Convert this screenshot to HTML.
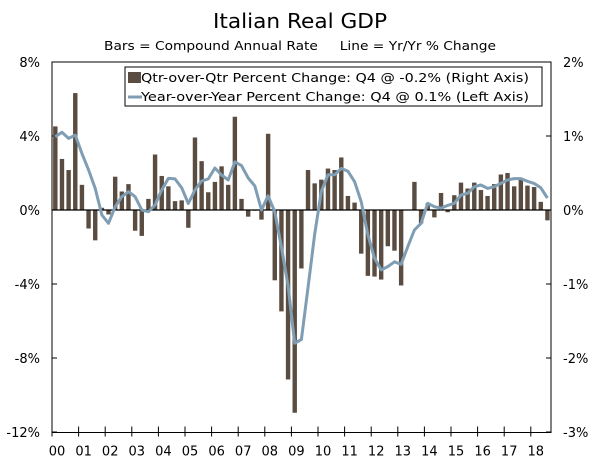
<!DOCTYPE html>
<html><head><meta charset="utf-8"><style>
html,body{margin:0;padding:0;background:#fff;}
svg{display:block;font-family:"DejaVu Sans","Liberation Sans",sans-serif;}
</style></head><body>
<svg id="chart" width="600" height="464" viewBox="0 0 600 464" xmlns="http://www.w3.org/2000/svg">
<text x="300" y="28" text-anchor="middle" font-size="20" fill="#000" textLength="174" lengthAdjust="spacingAndGlyphs">Italian Real GDP</text>
<text x="300" y="50" text-anchor="middle" font-size="12" fill="#000" xml:space="preserve" textLength="392" lengthAdjust="spacingAndGlyphs">Bars = Compound Annual Rate     Line = Yr/Yr % Change</text>
<g id="plot"></g>
</svg>
<script>
const years = ["00","01","02","03","04","05","06","07","08","09","10","11","12","13","14","15","16","17","18"];
const leftTicks = [8,4,0,-4,-8,-12];
const rightTicks = [2,1,0,-1,-2,-3];
// Qtr-over-Qtr (right axis units)
const qoq = [1.13,0.69,0.54,1.58, 0.34,-0.25,-0.41,0.03, -0.06,0.45,0.25,0.35, -0.28,-0.35,0.15,0.75,
 0.46,0.32,0.12,0.13, -0.24,0.98,0.66,0.24, 0.38,0.59,0.34,1.26, 0.15,-0.09,-0.01,-0.13,
 1.03,-0.95,-1.37,-2.29, -2.74,-0.79,0.54,0.36, 0.41,0.56,0.54,0.71, 0.19,0.10,-0.59,-0.89,
 -0.90,-0.94,-0.49,-0.55, -1.02,0.0,0.38,-0.18, 0.09,-0.10,0.23,-0.03, 0.20,0.37,0.29,0.37,
 0.27,0.19,0.35,0.48, 0.50,0.32,0.41,0.33, 0.31,0.11,-0.14];
// Year-over-Year (left axis units)
const yoy = [3.96,4.2,3.87,4.05, 3.06,2.16,1.17,-0.27, -0.72,0.18,0.72,0.99, 0.72,0,-0.09,0.27,
 1.08,1.71,1.68,1.2, 0.35,1.08,1.57,1.68, 2.27,1.89,1.62,2.6, 2.4,1.73,1.3,0,
 0.77,-0.1,-2.0,-4.1, -7.2,-7.0,-4.2,-1.3, 1.0,1.9,1.9,2.25, 2.1,1.53,0.45,-1.35,
 -2.6,-3.24,-3.06,-2.8, -2.94,-1.98,-1.08,-0.72, 0.36,0.18,0.1,0.25, 0.36,0.81,0.9,1.26,
 1.35,1.17,1.26,1.44, 1.62,1.7,1.7,1.55, 1.44,1.2,0.65];

const NS="http://www.w3.org/2000/svg";
const X0=52, X1=551, Y0=62, Y1=432.5, QW=6.65, YW=26.6;
const yL=v=>210-(v)*18.5;
const yR=v=>210-(v)*74;
const xq=i=>X0+(i+0.5)*QW;
const g=document.getElementById('plot');
function mk(t,a){const e=document.createElementNS(NS,t);for(const k in a)e.setAttribute(k,a[k]);g.appendChild(e);return e;}

let fr=mk('rect',{x:X0,y:Y0,width:X1-X0,height:Y1-Y0,fill:'none',stroke:'#000','stroke-width':1});



leftTicks.forEach(v=>{
  const y=yL(v);
  let t=mk('line',{x1:X0,x2:X0+5,y1:y,y2:y,stroke:'#000'});
  
  
  let l=mk('text',{x:X0-12,y:y+5,'text-anchor':'end','font-size':13});
  
  
  l.textContent=v+'%';
});
rightTicks.forEach(v=>{
  const y=yR(v);
  let t=mk('line',{x1:X1-5,x2:X1,y1:y,y2:y,stroke:'#000'});
  
  
  let l=mk('text',{x:X1+12,y:y+5,'text-anchor':'start','font-size':13});
  
  
  l.textContent=v+'%';
});
years.forEach((s,k)=>{
  const x=X0+k*YW;
  let t=mk('line',{x1:x,x2:x,y1:Y1-6,y2:Y1+4,stroke:'#000'});
  
  
  let l=mk('text',{x:x+5,y:Y1+23,'text-anchor':'middle','font-size':13});
  
  
  l.textContent=s;
});

qoq.forEach((v,i)=>{
  const y=yR(v), z=yR(0);
  let b=mk('rect',{x:xq(i)-2.2,y:Math.min(y,z),width:4.4,height:Math.max(Math.abs(z-y),0.01),fill:'#5b4c41'});
  
  
});
let zl=mk('line',{x1:X0,x2:X1,y1:210,y2:210,stroke:'#000','stroke-width':1.2});


let pts=yoy.map((v,i)=>xq(i).toFixed(1)+','+yL(v).toFixed(1)).join(' ');
let pl=mk('polyline',{points:pts,fill:'none',stroke:'#7f9db3','stroke-width':3,'stroke-linejoin':'round'});



let lg=mk('rect',{x:125,y:67,width:417,height:39,fill:'#fff',stroke:'#000','stroke-width':1});


let ls=mk('rect',{x:128,y:72,width:13,height:11,fill:'#5b4c41'});


let lt1=mk('text',{x:141,y:82,'font-size':12,textLength:388,lengthAdjust:'spacingAndGlyphs'});


lt1.textContent='Qtr-over-Qtr Percent Change: Q4 @ -0.2% (Right Axis)';
let ll=mk('line',{x1:128,x2:142,y1:97,y2:97,stroke:'#7f9db3','stroke-width':3});


let lt2=mk('text',{x:141,y:101,'font-size':12,textLength:388,lengthAdjust:'spacingAndGlyphs'});


lt2.textContent='Year-over-Year Percent Change: Q4 @ 0.1% (Left Axis)';
</script>
</body></html>
